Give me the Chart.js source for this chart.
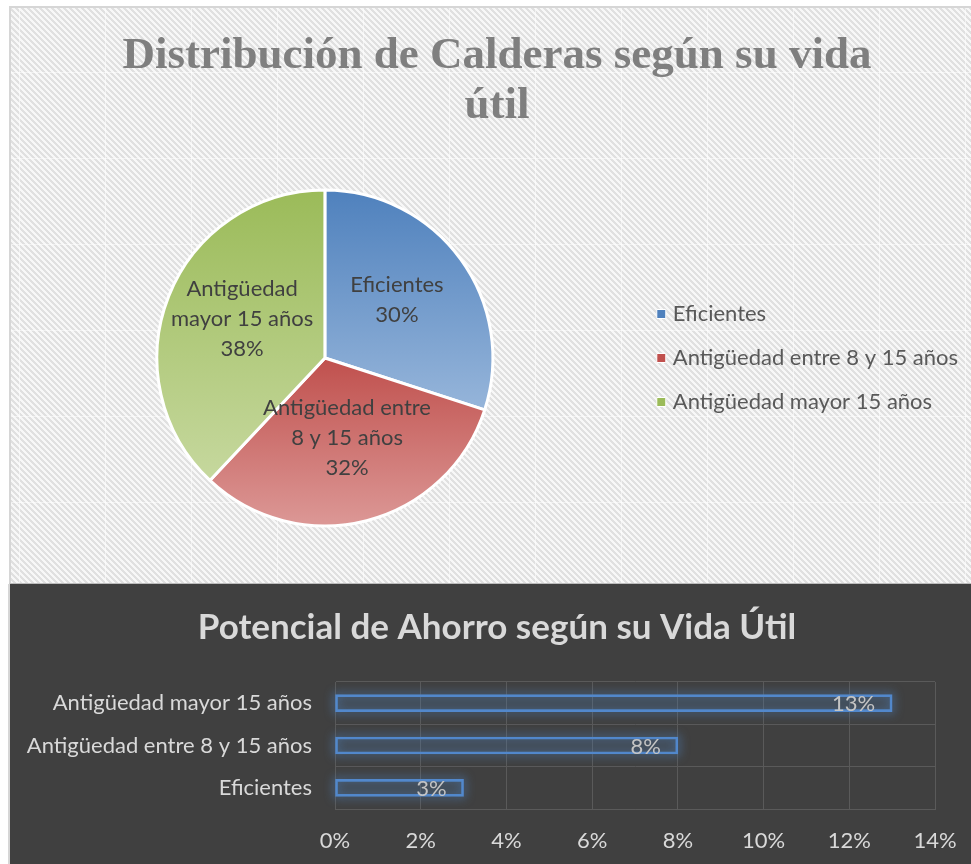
<!DOCTYPE html>
<html>
<head>
<meta charset="utf-8">
<script src="https://cdn.jsdelivr.net/npm/chart.js@4"></script>
<style>
html,body{margin:0;padding:0;background:#ffffff;overflow:hidden;width:971px;height:864px;}
#topPanel{position:absolute;left:9px;top:6px;width:980px;height:578px;box-sizing:border-box;
  border-top:2px solid #d6d6d6;border-left:2px solid #d6d6d6;border-bottom:1px solid #bcbcbc;
  background:
    linear-gradient(90deg, rgba(255,255,255,0.55) 1px, transparent 1px) 8px 0/86px 100% repeat-x,
    linear-gradient(180deg, rgba(255,255,255,0.55) 1px, transparent 1px) 0 64px/100% 86px repeat-y,
    repeating-linear-gradient(45deg,#f7f7f7 0px,#f7f7f7 2.1px,#e0e0e0 2.1px,#e0e0e0 4.24px);}
#botPanel{position:absolute;left:8px;top:584px;width:980px;height:280px;box-sizing:border-box;background:#404040;border-left:2px solid #d6d6d6;}
canvas{position:absolute;}
#pieCanvas{left:10px;top:7px;}
#barCanvas{left:10px;top:584px;}
</style>
</head>
<body>
<div id="topPanel"></div>
<div id="botPanel"></div>
<canvas id="pieCanvas" width="974" height="576"></canvas>
<canvas id="barCanvas" width="974" height="280"></canvas>
<script>
// ---- data ----
const categories = ['Eficientes', 'Antigüedad entre 8 y 15 años', 'Antigüedad mayor 15 años'];
const pieLabelLines = [['Eficientes'], ['Antigüedad entre', '8 y 15 años'], ['Antigüedad', 'mayor 15 años']];
const pieShares = [30, 32, 38];
const savingsPotential = [0.03, 0.08, 0.13];
const pieTitle = ['Distribución de Calderas según su vida', 'útil'];
const barTitle = 'Potencial de Ahorro según su Vida Útil';
const xTickMax = 0.14;
const xTickStep = 0.02;

// ---- styles ----
const sliceTop = ['rgb(79,129,189)', 'rgb(192,80,77)', 'rgb(155,187,89)'];
const sliceBottom = ['rgb(150,181,218)', 'rgb(220,152,150)', 'rgb(198,216,158)'];
const PIE_RADIUS = 168;

Chart.defaults.font.family = 'Lato';

// centre the title across the whole canvas (as the original chart does)
const centerTitlePlugin = {
  id: 'centerTitlePlugin',
  afterLayout(chart) {
    const t = chart.titleBlock;
    if (t) { t.left = 0; t.right = chart.width; t.width = chart.width; }
  }
};

function sliceGradient(context) {
  const chart = context.chart;
  const i = context.dataIndex;
  const area = chart.chartArea;
  if (!area || i === undefined) return sliceTop[i || 0];
  const cx = (area.left + area.right) / 2;
  const cy = (area.top + area.bottom) / 2;
  const vals = chart.data.datasets[0].data;
  const total = vals.reduce((a, b) => a + b, 0);
  let cum = 0;
  for (let k = 0; k < i; k++) cum += vals[k];
  const a1 = -Math.PI / 2 + cum / total * 2 * Math.PI;
  const a2 = a1 + vals[i] / total * 2 * Math.PI;
  const ys = [cy, cy + PIE_RADIUS * Math.sin(a1), cy + PIE_RADIUS * Math.sin(a2)];
  const inRange = a => {
    for (let t = -2; t <= 2; t++) { const v = a + t * 2 * Math.PI; if (v >= a1 && v <= a2) return true; }
    return false;
  };
  if (inRange(-Math.PI / 2)) ys.push(cy - PIE_RADIUS);
  if (inRange(Math.PI / 2)) ys.push(cy + PIE_RADIUS);
  const y0 = Math.min(...ys), y1 = Math.max(...ys);
  const g = chart.ctx.createLinearGradient(0, y0, 0, y1);
  g.addColorStop(0, sliceTop[i]);
  g.addColorStop(1, sliceBottom[i]);
  return g;
}

const pieLabelPlugin = {
  id: 'pieLabelPlugin',
  afterDatasetsDraw(chart) {
    const ctx = chart.ctx;
    const meta = chart.getDatasetMeta(0);
    const vals = chart.data.datasets[0].data;
    const total = vals.reduce((a, b) => a + b, 0);
    ctx.save();
    ctx.font = '22px Lato';
    ctx.fillStyle = '#404040';
    ctx.textAlign = 'center';
    ctx.textBaseline = 'middle';
    meta.data.forEach((arc, i) => {
      const p = arc.getProps(['x', 'y', 'startAngle', 'endAngle', 'outerRadius'], true);
      const mid = (p.startAngle + p.endAngle) / 2;
      const r = p.outerRadius * 0.53;
      const cx = p.x + Math.cos(mid) * r;
      const cy = p.y + Math.sin(mid) * r - 6;
      const lines = pieLabelLines[i].concat([Math.round(vals[i] / total * 100) + '%']);
      const lh = 30;
      lines.forEach((t, j) => ctx.fillText(t, cx, cy + (j - (lines.length - 1) / 2) * lh));
    });
    ctx.restore();
  }
};

new Chart(document.getElementById('pieCanvas'), {
  type: 'pie',
  data: {
    labels: categories,
    datasets: [{
      data: pieShares,
      backgroundColor: sliceGradient,
      borderColor: '#ffffff',
      borderWidth: 3
    }]
  },
  options: {
    responsive: false,
    animation: false,
    radius: PIE_RADIUS,
    layout: { padding: { left: 1, right: 16, top: 0, bottom: 5 } },
    plugins: {
      tooltip: { enabled: false },
      title: {
        display: true,
        text: pieTitle,
        color: '#7f7f7f',
        font: { family: 'Liberation Serif', size: 45, weight: 'bold', lineHeight: 1.1 },
        padding: { top: 25, bottom: 7 }
      },
      legend: {
        position: 'right',
        fullSize: false,
        labels: {
          color: '#595959',
          font: { family: 'Lato', size: 22 },
          usePointStyle: true,
          pointStyle: 'rect',
          boxWidth: 1,
          boxHeight: 9,
          padding: 22,
          generateLabels(chart) {
            const items = Chart.overrides.doughnut.plugins.legend.labels.generateLabels(chart);
            items.forEach((it, i) => {
              it.fillStyle = sliceTop[i];
              it.strokeStyle = '#ffffff';
              it.lineWidth = 1;
              it.pointStyle = 'rect';
            });
            return items;
          }
        }
      }
    }
  },
  plugins: [pieLabelPlugin, centerTitlePlugin]
});

const glowPlugin = {
  id: 'glowPlugin',
  beforeDatasetsDraw(chart) {
    const ctx = chart.ctx;
    const meta = chart.getDatasetMeta(0);
    ctx.save();
    ctx.shadowColor = 'rgba(79,129,189,0.9)';
    ctx.shadowBlur = 10;
    ctx.shadowOffsetX = 10000;
    ctx.strokeStyle = '#000';
    ctx.lineWidth = 3;
    meta.data.forEach(b => {
      const p = b.getProps(['x', 'y', 'base', 'height'], true);
      const left = Math.min(p.x, p.base), w = Math.abs(p.x - p.base);
      ctx.strokeRect(left - 10000, p.y - p.height / 2, w, p.height);
    });
    ctx.restore();
  }
};

const barLabelPlugin = {
  id: 'barLabelPlugin',
  afterDatasetsDraw(chart) {
    const ctx = chart.ctx;
    const meta = chart.getDatasetMeta(0);
    const vals = chart.data.datasets[0].data;
    ctx.save();
    ctx.font = '22px Lato';
    ctx.fillStyle = '#c4c4c4';
    ctx.textAlign = 'right';
    ctx.textBaseline = 'middle';
    meta.data.forEach((b, i) => {
      const p = b.getProps(['x', 'y'], true);
      ctx.fillText(Math.round(vals[i] * 100) + '%', p.x - 17, p.y + 1);
    });
    ctx.restore();
  }
};

new Chart(document.getElementById('barCanvas'), {
  type: 'bar',
  data: {
    labels: categories,
    datasets: [{
      data: savingsPotential,
      backgroundColor: 'rgba(79,129,189,0.16)',
      borderColor: '#5288cc',
      borderWidth: 2,
      borderSkipped: false,
      barThickness: 17
    }]
  },
  options: {
    indexAxis: 'y',
    responsive: false,
    animation: false,
    layout: { padding: { left: 0, right: 49, top: 0, bottom: 10 } },
    plugins: {
      legend: { display: false },
      tooltip: { enabled: false },
      title: {
        display: true,
        text: barTitle,
        color: '#d9d9d9',
        font: { family: 'Lato', size: 35, weight: 'bold', lineHeight: 1.2 },
        padding: { top: 23, bottom: 33 }
      }
    },
    scales: {
      x: {
        min: 0,
        max: xTickMax,
        afterFit: s => { s.height = 45; },
        ticks: {
          stepSize: xTickStep,
          callback: v => Math.round(v * 100) + '%',
          color: '#d9d9d9',
          font: { family: 'Lato', size: 22 },
          padding: 19
        },
        grid: { color: '#5a5a5a', drawTicks: false },
        border: { color: '#5a5a5a' }
      },
      y: {
        reverse: true,
        afterFit: s => { s.width = 325; },
        ticks: { color: '#d9d9d9', font: { family: 'Lato', size: 22 }, padding: 23 },
        grid: { color: '#5a5a5a', drawTicks: false, offset: true },
        border: { color: '#5a5a5a' }
      }
    }
  },
  plugins: [glowPlugin, barLabelPlugin, centerTitlePlugin]
});
</script>
</body>
</html>
